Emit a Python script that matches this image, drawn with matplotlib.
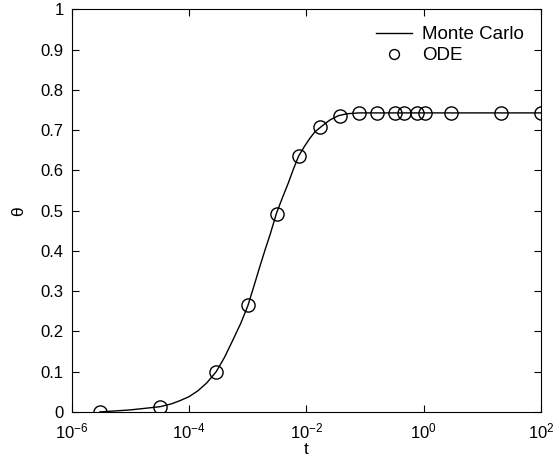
import numpy as np
import matplotlib
matplotlib.use("Agg")
import matplotlib.pyplot as plt
from matplotlib.ticker import FixedLocator, NullLocator

plt.rcParams['font.family'] = ['Liberation Sans', 'DejaVu Sans']
plt.rcParams['mathtext.fontset'] = 'custom'
plt.rcParams['mathtext.rm'] = 'Liberation Sans'
plt.rcParams['mathtext.it'] = 'Liberation Sans:italic'

# Monte Carlo curve
t_mc = [3e-6, 5e-6, 1e-5, 1.8e-5, 3.2e-5, 5e-5, 7e-5, 1e-4, 1.4e-4, 2e-4,
        2.9e-4, 4e-4, 5.6e-4, 7.6e-4, 1e-3, 1.26e-3, 1.6e-3, 2e-3, 2.4e-3,
        3.1e-3, 3.9e-3, 4.9e-3, 6e-3, 7.4e-3, 9.3e-3, 1.15e-2, 1.4e-2,
        1.8e-2, 2.5e-2, 3.5e-2, 5e-2, 8e-2, 1.0, 100.0]
theta_mc = [0.000, 0.002, 0.005, 0.009, 0.013, 0.020, 0.028, 0.038, 0.052,
            0.072, 0.100, 0.135, 0.179, 0.220, 0.263, 0.310, 0.360, 0.405,
            0.440, 0.494, 0.532, 0.568, 0.603, 0.636, 0.660, 0.680, 0.696,
            0.709, 0.725, 0.736, 0.741, 0.743, 0.743, 0.743]

# ODE solution samples
t_ode = [3e-6, 3.2e-5, 2.9e-4, 1e-3, 3.1e-3, 7.6e-3, 0.0174, 0.037, 0.078,
         0.16, 0.33, 0.47, 0.76, 1.05, 2.9, 20.6, 100.0]
theta_ode = [0.0, 0.012, 0.10, 0.265, 0.493, 0.635, 0.707, 0.736, 0.743,
             0.743, 0.743, 0.743, 0.743, 0.743, 0.743, 0.743, 0.743]

fig = plt.figure(figsize=(5.57, 4.74), dpi=100)
ax = fig.add_axes([0.129, 0.131, 0.842, 0.849])

ax.plot(t_mc, theta_mc, color='black', lw=1.0, label='Monte Carlo')
ax.plot(t_ode, theta_ode, 'o', mfc='none', mec='black', mew=1.0, ms=9.5,
        label='ODE')

ax.set_xscale('log')
ax.set_xlim(1e-6, 1e2)
ax.set_ylim(0, 1)
xt = [1e-6, 1e-4, 1e-2, 1e0, 1e2]
ax.xaxis.set_major_locator(FixedLocator(xt))
ax.xaxis.set_minor_locator(NullLocator())
ax.set_xticklabels([r'$10^{-6}$', r'$10^{-4}$', r'$10^{-2}$', r'$10^{0}$', r'$10^{2}$'])
yt = np.round(np.arange(0, 1.01, 0.1), 1)
ax.set_yticks(yt)
ax.set_yticklabels(['0'] + [f'{v:g}' for v in yt[1:-1]] + ['1'])

ax.tick_params(direction='in', top=True, right=True, length=5, width=0.8,
               labelsize=12)
ax.tick_params(axis='x', pad=7)
ax.tick_params(axis='y', pad=6)
for s in ax.spines.values():
    s.set_linewidth(0.8)

ax.set_xlabel('t', fontsize=12.5, labelpad=0.5)
ax.set_ylabel('θ', fontsize=12.5, labelpad=10)

leg = ax.legend(loc='upper right', frameon=False, fontsize=13.5,
                handlelength=1.9, handletextpad=0.55, borderaxespad=0.5,
                labelspacing=0.2, markerscale=0.75)

fig.savefig('out.png', dpi=100)
